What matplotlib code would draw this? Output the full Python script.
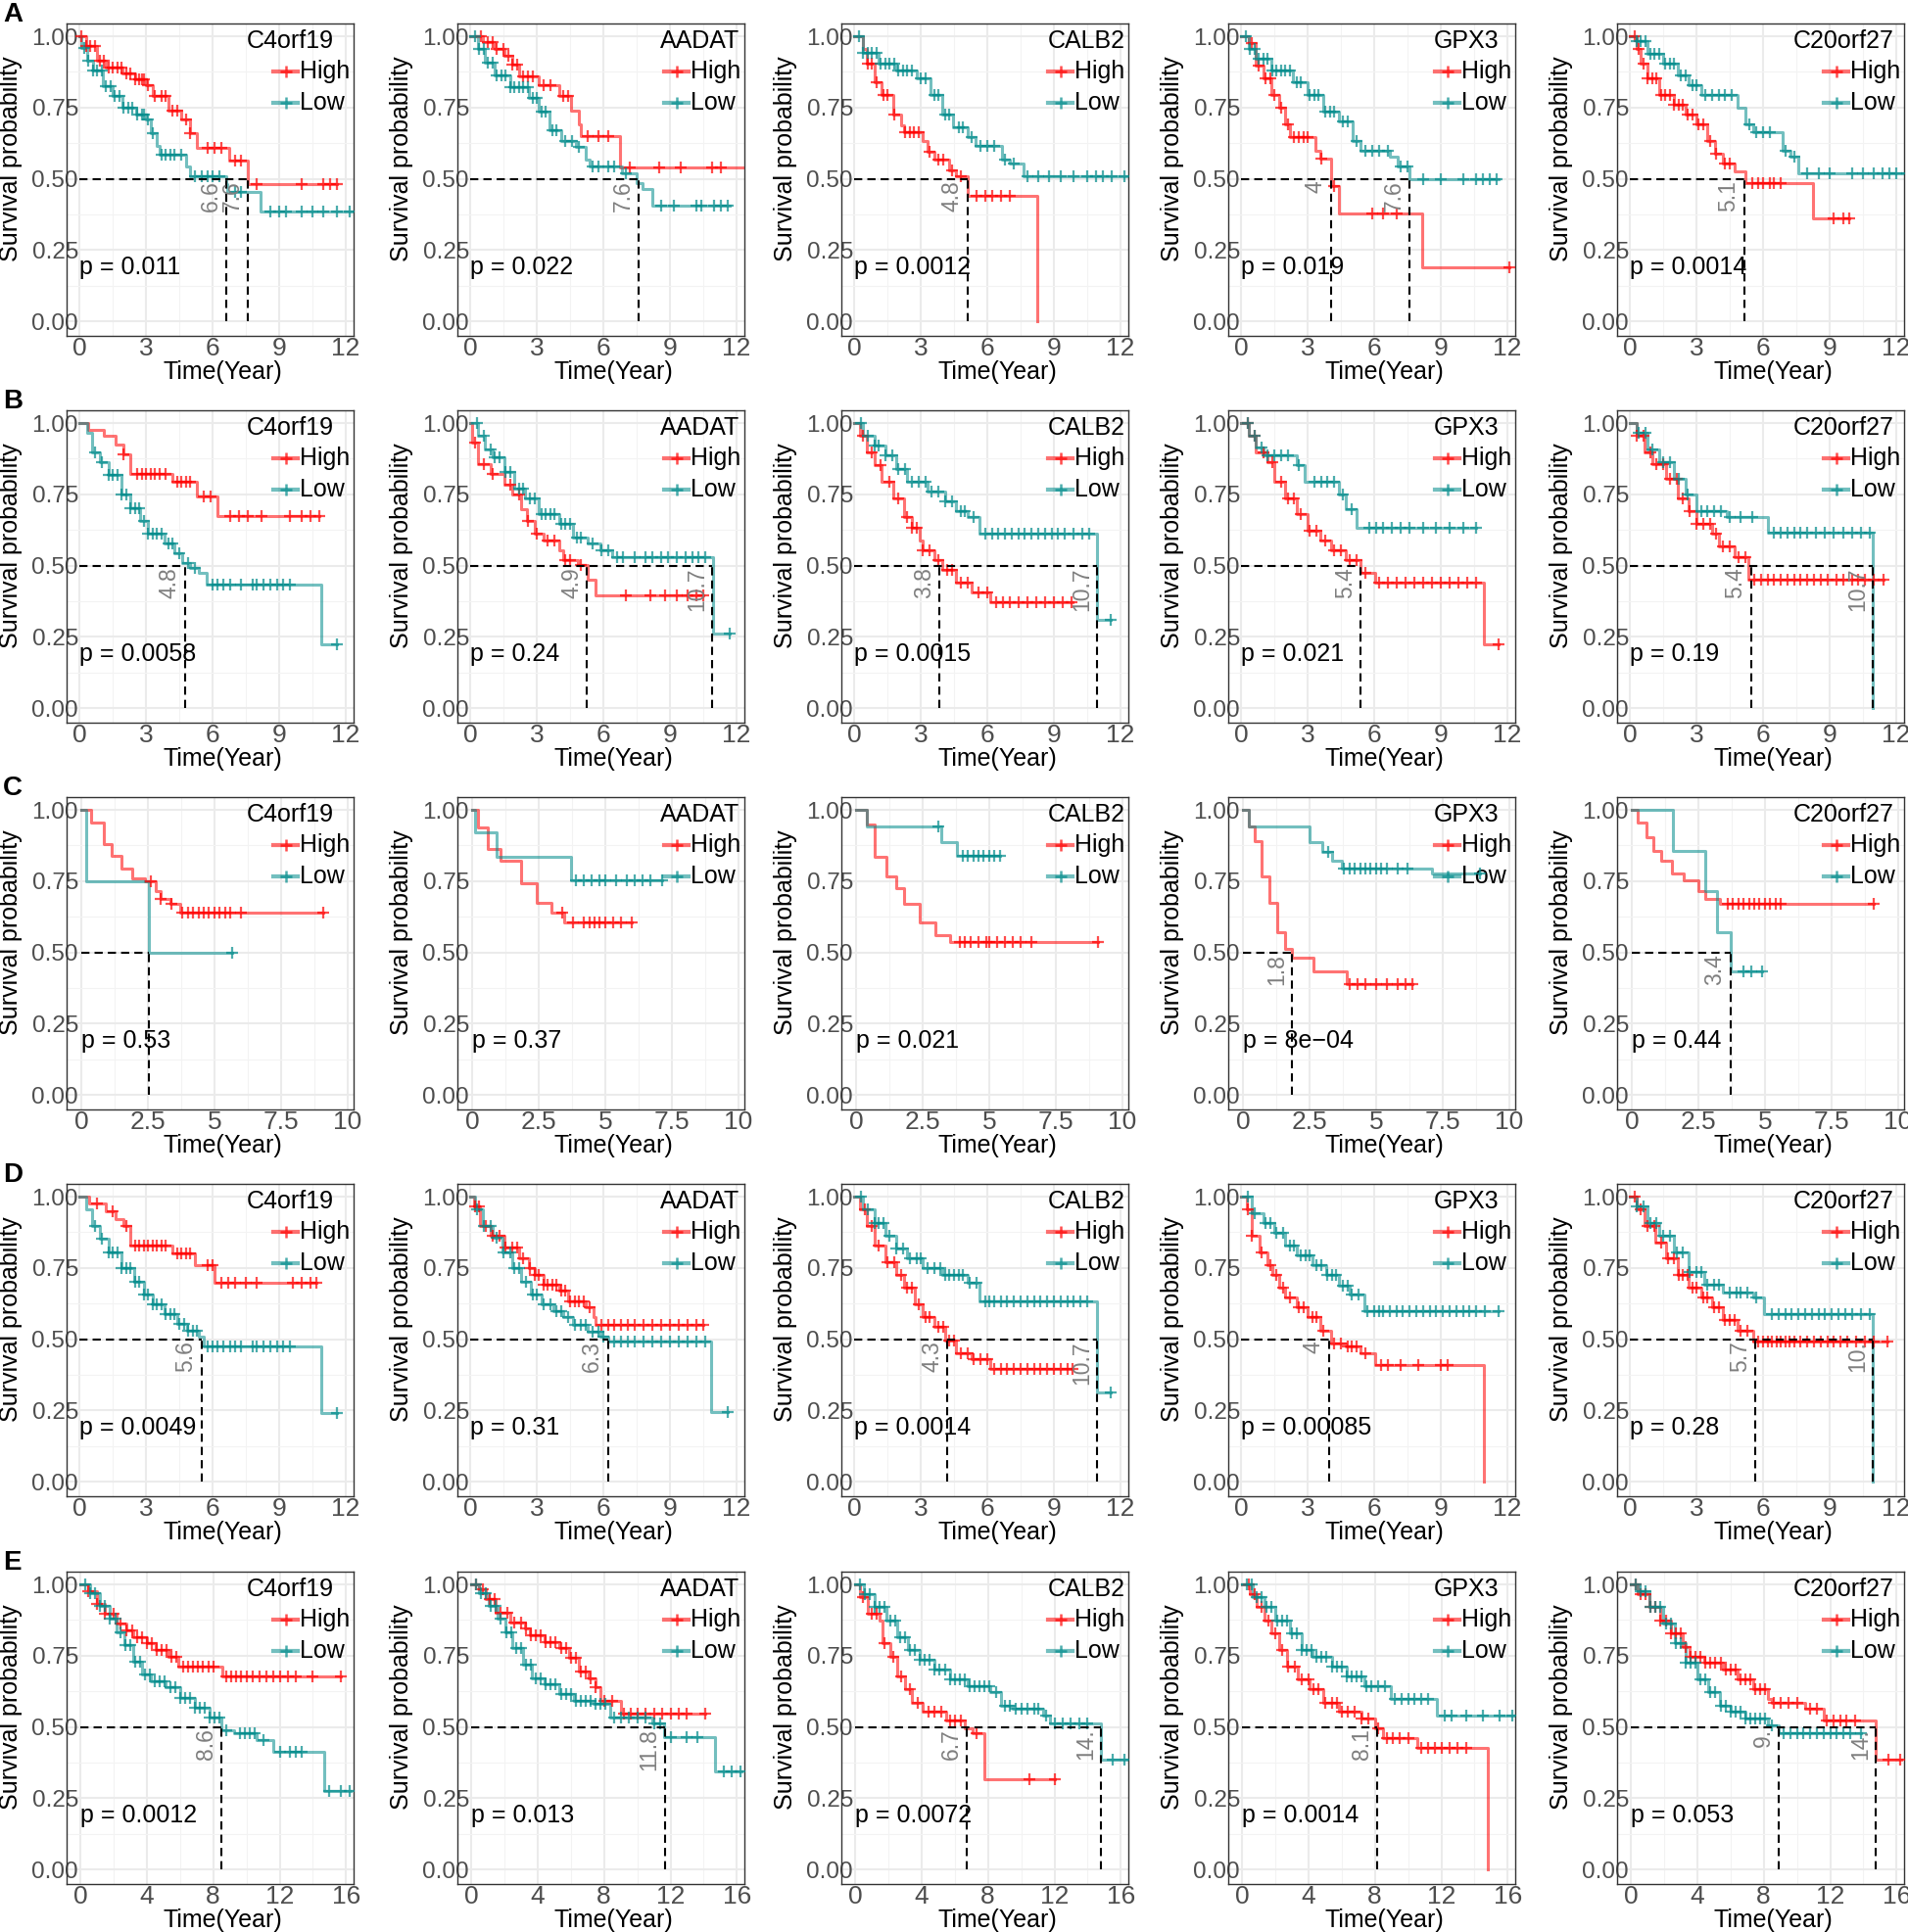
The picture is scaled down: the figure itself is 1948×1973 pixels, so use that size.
import matplotlib
matplotlib.use("Agg")
from matplotlib import pyplot as plt
from matplotlib.lines import Line2D

plt.rcParams['font.family'] = ['Liberation Sans', 'DejaVu Sans']

GENES = ["C4orf19", "AADAT", "CALB2", "GPX3", "C20orf27"]
ROWS = ["A", "B", "C", "D", "E"]

P_TEXT = {
    "A": ["p = 0.011", "p = 0.022", "p = 0.0012", "p = 0.019", "p = 0.0014"],
    "B": ["p = 0.0058", "p = 0.24", "p = 0.0015", "p = 0.021", "p = 0.19"],
    "C": ["p = 0.53", "p = 0.37", "p = 0.021", "p = 8e\u221204", "p = 0.44"],
    "D": ["p = 0.0049", "p = 0.31", "p = 0.0014", "p = 0.00085", "p = 0.28"],
    "E": ["p = 0.0012", "p = 0.013", "p = 0.0072", "p = 0.0014", "p = 0.053"],
}

X_TICKS = {
    "A": [0, 3, 6, 9, 12], "B": [0, 3, 6, 9, 12], "C": [0, 2.5, 5, 7.5, 10],
    "D": [0, 3, 6, 9, 12], "E": [0, 4, 8, 12, 16],
}
X_TICK_LABELS = {
    "A": ["0", "3", "6", "9", "12"], "B": ["0", "3", "6", "9", "12"],
    "C": ["0", "2.5", "5", "7.5", "10"], "D": ["0", "3", "6", "9", "12"],
    "E": ["0", "4", "8", "12", "16"],
}

# ---- survival curves: (time, survival) steps, censor times, median lines ----
A1_high = [(0, 1), (0.3, 0.966), (0.77, 0.915), (1.2, 0.89), (1.95, 0.87), (2.5, 0.85), (3.0, 0.83), (3.3, 0.79),
           (4.0, 0.74), (4.6, 0.71), (5.0, 0.66), (5.3, 0.61), (6.75, 0.565), (7.6, 0.48), (11.6, 0.48)]
A1_high_cens = [0.1, 0.3, 0.5, 0.7, 0.9, 1.1, 1.3, 1.5, 1.7, 1.9, 2.1, 2.3, 2.5, 2.7, 2.8, 2.9, 3.1, 3.4, 3.7, 3.9,
                4.2, 4.4, 4.8, 5.0, 5.8, 6.1, 6.4, 7.0, 7.3, 8.0, 10.0, 11.0, 11.3, 11.6]
A1_low = [(0, 1), (0.1, 0.96), (0.33, 0.915), (0.6, 0.88), (1.06, 0.824), (1.5, 0.79), (1.95, 0.75), (2.55, 0.727),
          (3.0, 0.71), (3.2, 0.66), (3.5, 0.614), (3.6, 0.585), (4.8, 0.545), (5.0, 0.51), (6.6, 0.48), (6.65, 0.455),
          (8.15, 0.386), (12.3, 0.386)]
A1_low_cens = [0.2, 0.4, 0.6, 0.8, 1.0, 1.2, 1.4, 1.6, 1.8, 2.0, 2.2, 2.4, 2.6, 2.8, 2.9, 3.1, 3.3, 3.7, 3.9, 4.1,
               4.3, 4.6, 5.2, 5.5, 5.8, 6.0, 6.3, 7.0, 7.3, 8.6, 9.0, 9.3, 10.0, 10.5, 11.0, 11.6, 12.2]
A1_med = [6.6, 7.6]
A1_med_lab = ["6.6", "7.6"]

A2_high = [(0, 1), (0.55, 0.98), (1.1, 0.954), (1.55, 0.93), (1.9, 0.90), (2.2, 0.86), (3.1, 0.83), (4.0, 0.79),
           (4.55, 0.74), (4.9, 0.69), (5.0, 0.65), (6.75, 0.54), (12.3, 0.54)]
A2_high_cens = [0.5, 0.8, 1.0, 1.2, 1.5, 1.7, 1.9, 2.1, 2.4, 2.6, 2.8, 3.3, 3.6, 4.2, 4.4, 5.3, 5.8, 6.2, 7.2, 8.5,
                9.5, 10.9, 11.3]
A2_low = [(0, 1), (0.33, 0.954), (0.66, 0.909), (1.1, 0.863), (1.8, 0.823), (2.65, 0.783), (3.1, 0.737),
          (3.55, 0.669), (4.1, 0.634), (4.75, 0.611), (5.2, 0.566), (5.4, 0.543), (6.85, 0.52), (7.5, 0.486),
          (7.75, 0.463), (8.2, 0.406), (11.7, 0.406)]
A2_low_cens = [0.2, 0.4, 0.6, 0.8, 1.0, 1.2, 1.4, 1.6, 1.8, 2.0, 2.2, 2.4, 2.6, 2.8, 3.0, 3.2, 3.4, 3.7, 3.9, 4.3,
               4.6, 4.9, 5.5, 5.8, 6.2, 6.5, 7.0, 8.6, 9.2, 10.2, 10.4, 11.0, 11.3, 11.6]
A2_med = [7.6]
A2_med_lab = ["7.6"]

A3_high = [(0, 1), (0.4, 0.954), (0.57, 0.903), (0.9, 0.84), (1.25, 0.794), (1.75, 0.726), (2.1, 0.686),
           (2.26, 0.663), (3.1, 0.634), (3.3, 0.594), (3.6, 0.566), (4.3, 0.531), (4.6, 0.509), (5.1, 0.44),
           (8.25, 0.44), (8.25, 0)]
A3_high_cens = [0.6, 0.8, 1.0, 1.3, 1.5, 1.8, 2.3, 2.5, 2.7, 2.9, 3.4, 3.8, 4.0, 4.4, 4.8, 5.5, 5.9, 6.2, 6.6, 7.0]
A3_low = [(0, 1), (0.4, 0.943), (1.1, 0.903), (1.9, 0.88), (2.8, 0.851), (3.45, 0.794), (3.95, 0.726), (4.45, 0.68),
          (5.1, 0.646), (5.45, 0.617), (6.65, 0.566), (7.0, 0.554), (7.65, 0.509), (12.4, 0.509)]
A3_low_cens = [0.2, 0.4, 0.6, 0.8, 1.0, 1.2, 1.4, 1.6, 1.8, 2.0, 2.2, 2.4, 2.6, 3.0, 3.2, 3.6, 3.8, 4.1, 4.3, 4.7,
               4.9, 5.3, 5.7, 6.0, 6.3, 6.8, 7.2, 7.8, 8.3, 8.8, 9.3, 9.9, 10.5, 10.9, 11.2, 11.6, 12.2]
A3_med = [5.1]
A3_med_lab = ["4.8"]

A4_high = [(0, 1), (0.33, 0.977), (0.67, 0.897), (1.0, 0.851), (1.35, 0.794), (1.7, 0.749), (2.0, 0.69),
           (2.2, 0.646), (3.35, 0.6), (3.55, 0.571), (4.05, 0.474), (4.4, 0.377), (8.15, 0.189), (12.1, 0.189)]
A4_high_cens = [0.5, 0.8, 1.1, 1.3, 1.5, 1.8, 2.1, 2.4, 2.6, 2.8, 3.0, 3.6, 4.2, 5.9, 6.4, 7.0, 12.1]
A4_low = [(0, 1), (0.33, 0.954), (0.67, 0.92), (1.35, 0.88), (2.35, 0.84), (3.0, 0.794), (3.7, 0.737), (4.4, 0.703),
          (5.05, 0.634), (5.4, 0.6), (6.7, 0.577), (7.05, 0.543), (7.6, 0.497), (11.6, 0.497)]
A4_low_cens = [0.2, 0.4, 0.6, 0.8, 1.0, 1.2, 1.4, 1.6, 1.8, 2.0, 2.2, 2.5, 2.7, 3.1, 3.3, 3.5, 3.8, 4.0, 4.2, 4.6,
               4.8, 5.2, 5.6, 5.9, 6.2, 6.6, 7.2, 7.5, 8.2, 9.0, 10.0, 10.6, 10.9, 11.2, 11.5]
A4_med = [4.05, 7.6]
A4_med_lab = ["4", "7.6"]

A5_high = [(0, 1), (0.3, 0.954), (0.47, 0.903), (0.8, 0.851), (1.3, 0.794), (2.0, 0.76), (2.5, 0.726), (3.0, 0.691),
           (3.5, 0.634), (3.85, 0.589), (4.2, 0.554), (4.7, 0.526), (5.2, 0.486), (8.25, 0.36), (9.9, 0.36)]
A5_high_cens = [0.2, 0.4, 0.6, 0.8, 1.0, 1.2, 1.4, 1.6, 1.8, 2.0, 2.2, 2.4, 2.6, 2.8, 3.1, 3.3, 3.6, 3.9, 4.3, 4.5,
                5.5, 5.8, 6.0, 6.3, 6.5, 6.8, 9.2, 9.6, 9.9]
A5_low = [(0, 1), (0.3, 0.983), (0.8, 0.937), (1.5, 0.903), (2.15, 0.863), (2.65, 0.829), (3.2, 0.794),
          (4.85, 0.749), (5.2, 0.691), (5.55, 0.663), (6.9, 0.6), (7.25, 0.577), (7.6, 0.52), (12.5, 0.52)]
A5_low_cens = [0.3, 0.5, 0.7, 0.9, 1.1, 1.3, 1.6, 1.8, 2.0, 2.3, 2.5, 2.8, 3.0, 3.4, 3.7, 4.0, 4.3, 4.6, 5.4, 5.7,
               6.0, 6.3, 7.0, 7.4, 8.0, 8.5, 9.0, 10.0, 10.5, 11.0, 11.4, 11.7, 12.0, 12.5]
A5_med = [5.15]
A5_med_lab = ["5.1"]

B1_high = [(0, 1), (0.4, 0.977), (1.1, 0.954), (1.65, 0.926), (2.0, 0.891), (2.3, 0.823), (4.2, 0.794),
           (5.3, 0.743), (6.2, 0.674), (10.8, 0.674)]
B1_high_cens = [2.0, 2.6, 2.8, 3.0, 3.2, 3.4, 3.6, 3.9, 4.4, 4.6, 4.8, 5.0, 5.6, 5.9, 6.8, 7.2, 7.6, 8.2, 9.5, 10.0,
                10.4, 10.8]
B1_low = [(0, 1), (0.33, 0.966), (0.55, 0.897), (0.9, 0.863), (1.3, 0.817), (1.9, 0.749), (2.3, 0.703),
          (2.75, 0.657), (3.1, 0.611), (3.85, 0.577), (4.3, 0.543), (4.65, 0.509), (5.0, 0.491), (5.4, 0.474),
          (5.75, 0.434), (10.9, 0.434), (10.9, 0.223), (11.6, 0.223)]
B1_low_cens = [0.7, 1.0, 1.3, 1.5, 1.7, 1.9, 2.1, 2.3, 2.5, 2.7, 2.9, 3.1, 3.3, 3.5, 3.7, 4.0, 4.2, 4.5, 4.9, 5.2,
               6.0, 6.2, 6.5, 6.8, 7.3, 7.8, 8.0, 8.3, 8.6, 8.9, 9.2, 9.5, 11.6]
B1_med = [4.75]
B1_med_lab = ["4.8"]

B2_high = [(0, 1), (0.1, 0.931), (0.33, 0.857), (0.9, 0.823), (1.55, 0.783), (1.9, 0.749), (2.3, 0.697),
           (2.55, 0.657), (2.9, 0.611), (3.3, 0.589), (4.0, 0.554), (4.2, 0.52), (4.85, 0.503), (5.3, 0.451),
           (5.65, 0.394), (10.5, 0.394)]
B2_high_cens = [0.2, 0.6, 1.0, 1.8, 2.2, 2.6, 3.0, 3.5, 3.8, 4.3, 4.5, 5.0, 7.0, 8.1, 8.8, 9.3, 9.8, 10.2, 10.5]
B2_low = [(0, 1), (0.33, 0.954), (0.66, 0.909), (1.0, 0.88), (1.55, 0.829), (2.0, 0.771), (2.45, 0.737),
          (3.1, 0.68), (4.0, 0.646), (4.65, 0.6), (5.3, 0.577), (5.85, 0.554), (6.4, 0.531), (10.95, 0.531),
          (10.95, 0.263), (11.7, 0.263)]
B2_low_cens = [0.3, 0.6, 0.9, 1.1, 1.3, 1.6, 1.8, 2.2, 2.4, 2.7, 2.9, 3.2, 3.4, 3.6, 3.8, 4.1, 4.3, 4.5, 4.8, 5.0,
               5.5, 5.9, 6.2, 6.6, 6.9, 7.4, 7.9, 8.2, 8.6, 8.9, 9.3, 9.7, 10.0, 10.3, 10.6, 11.7]
B2_med = [5.27, 10.9]
B2_med_lab = ["4.9", "10.7"]

B3_high = [(0, 1), (0.24, 0.954), (0.57, 0.897), (0.9, 0.851), (1.25, 0.794), (1.75, 0.737), (2.26, 0.669),
           (2.6, 0.634), (2.94, 0.589), (3.1, 0.554), (3.6, 0.52), (3.95, 0.486), (4.6, 0.44), (5.3, 0.406),
           (6.15, 0.371), (9.85, 0.371)]
B3_high_cens = [0.4, 0.8, 1.2, 1.6, 2.0, 2.4, 2.6, 2.8, 3.1, 3.4, 3.8, 4.2, 4.4, 4.8, 5.1, 5.6, 6.0, 6.4, 6.7, 7.0,
                7.4, 7.8, 8.2, 8.6, 9.0, 9.4, 9.8]
B3_low = [(0, 1), (0.4, 0.954), (0.9, 0.92), (1.4, 0.886), (1.9, 0.84), (2.4, 0.794), (3.3, 0.76), (4.1, 0.726),
          (4.6, 0.691), (5.1, 0.669), (5.65, 0.611), (10.95, 0.611), (10.95, 0.309), (11.55, 0.309)]
B3_low_cens = [0.3, 0.6, 0.9, 1.1, 1.4, 1.7, 2.0, 2.3, 2.6, 2.9, 3.2, 3.5, 3.8, 4.1, 4.4, 4.8, 5.0, 5.4, 5.9, 6.2,
               6.5, 6.8, 7.1, 7.4, 7.7, 8.0, 8.3, 8.6, 8.9, 9.2, 9.5, 9.9, 10.3, 10.6, 11.55]
B3_med = [3.85, 10.95]
B3_med_lab = ["3.8", "10.7"]

B4_high = [(0, 1), (0.33, 0.954), (0.67, 0.897), (1.2, 0.863), (1.5, 0.794), (2.0, 0.737), (2.5, 0.68),
           (3.0, 0.623), (3.55, 0.589), (4.05, 0.554), (4.7, 0.52), (5.4, 0.474), (6.05, 0.44), (10.95, 0.44),
           (10.95, 0.223), (11.6, 0.223)]
B4_high_cens = [0.3, 0.6, 1.0, 1.4, 1.8, 2.1, 2.4, 2.7, 3.1, 3.4, 3.8, 4.2, 4.5, 4.9, 5.2, 5.6, 6.2, 6.6, 7.0, 7.4,
                7.8, 8.2, 8.6, 9.0, 9.4, 9.8, 10.2, 10.6, 11.6]
B4_low = [(0, 1), (0.33, 0.954), (0.67, 0.914), (1.0, 0.886), (2.5, 0.851), (2.85, 0.794), (4.4, 0.749),
          (4.7, 0.697), (5.2, 0.634), (10.6, 0.634)]
B4_low_cens = [0.3, 0.6, 0.9, 1.2, 1.5, 1.8, 2.1, 2.6, 3.3, 3.6, 3.9, 4.2, 4.6, 5.0, 5.8, 6.1, 6.4, 6.8, 7.2, 7.6,
               8.2, 8.8, 9.4, 10.0, 10.6]
B4_med = [5.4]
B4_med_lab = ["5.4"]

B5_high = [(0, 1), (0.3, 0.954), (0.64, 0.897), (1.0, 0.857), (1.65, 0.806), (2.15, 0.737), (2.65, 0.691),
           (3.0, 0.646), (3.7, 0.611), (4.0, 0.566), (4.7, 0.531), (5.35, 0.451), (11.45, 0.451)]
B5_high_cens = [0.3, 0.6, 0.9, 1.2, 1.5, 1.8, 2.1, 2.4, 2.7, 3.0, 3.3, 3.6, 3.9, 4.2, 4.5, 4.9, 5.2, 5.6, 5.9, 6.2,
                6.5, 6.8, 7.1, 7.4, 7.7, 8.0, 8.3, 8.6, 8.9, 9.3, 9.6, 10.0, 10.3, 10.6, 11.0, 11.45]
B5_low = [(0, 1), (0.3, 0.966), (0.8, 0.909), (1.3, 0.863), (2.0, 0.806), (2.5, 0.749), (3.0, 0.691),
          (4.35, 0.669), (6.2, 0.617), (10.95, 0.617), (10.95, 0)]
B5_low_cens = [0.4, 0.7, 1.0, 1.5, 1.8, 2.2, 2.6, 3.2, 3.5, 3.8, 4.1, 4.5, 5.0, 5.5, 6.5, 6.8, 7.1, 7.4, 7.7, 8.0,
               8.4, 8.8, 9.2, 9.6, 10.0, 10.4, 10.8]
B5_med = [5.45, 10.95]
B5_med_lab = ["5.4", "10.7"]

C1_high = [(0, 1), (0.37, 0.954), (0.83, 0.88), (1.15, 0.84), (1.5, 0.794), (1.9, 0.76), (2.4, 0.749),
           (2.8, 0.714), (3.0, 0.686), (3.35, 0.669), (3.7, 0.64), (9.1, 0.64)]
C1_high_cens = [2.6, 3.0, 3.4, 3.8, 4.0, 4.2, 4.4, 4.6, 4.8, 5.0, 5.2, 5.4, 5.6, 6.0, 9.1]
C1_low = [(0, 1), (0.2, 0.75), (2.55, 0.5), (5.65, 0.5)]
C1_low_cens = [5.65]
C1_med = [2.55]
C1_med_lab = [""]

C2_high = [(0, 1), (0.23, 0.937), (0.6, 0.863), (1.06, 0.823), (1.84, 0.743), (2.44, 0.674), (3.0, 0.64),
           (3.45, 0.606), (6.0, 0.606)]
C2_high_cens = [3.4, 3.8, 4.2, 4.4, 4.6, 4.8, 5.0, 5.3, 5.6, 6.0]
C2_low = [(0, 1), (0.1, 0.92), (0.92, 0.834), (3.7, 0.754), (7.15, 0.754)]
C2_low_cens = [3.9, 4.2, 4.5, 4.8, 5.0, 5.4, 5.8, 6.1, 6.4, 6.7, 7.15]
C2_med = []
C2_med_lab = []

C3_high = [(0, 1), (0.4, 0.949), (0.7, 0.834), (1.15, 0.766), (1.5, 0.726), (1.8, 0.669), (2.4, 0.606),
           (3.0, 0.56), (3.55, 0.537), (9.1, 0.537)]
C3_high_cens = [3.9, 4.1, 4.3, 4.6, 4.9, 5.0, 5.3, 5.6, 5.9, 6.2, 6.6, 9.1]
C3_low = [(0, 1), (0.4, 0.943), (3.2, 0.886), (3.8, 0.84), (5.4, 0.84)]
C3_low_cens = [3.1, 4.0, 4.2, 4.4, 4.6, 4.8, 5.0, 5.2, 5.4]
C3_med = []
C3_med_lab = []

C4_high = [(0, 1), (0.23, 0.943), (0.46, 0.891), (0.7, 0.766), (1.0, 0.674), (1.3, 0.571), (1.6, 0.514),
           (1.85, 0.48), (2.65, 0.434), (3.9, 0.389), (6.35, 0.389)]
C4_high_cens = [4.0, 4.3, 4.6, 5.0, 5.4, 5.8, 6.1, 6.35]
C4_low = [(0, 1), (0.23, 0.943), (2.5, 0.886), (3.0, 0.851), (3.35, 0.823), (3.7, 0.794), (7.1, 0.776),
          (8.9, 0.776)]
C4_low_cens = [3.2, 3.8, 4.0, 4.2, 4.4, 4.6, 4.8, 5.0, 5.2, 5.4, 5.8, 6.2, 8.9]
C4_med = [1.85]
C4_med_lab = ["1.8"]

C5_high = [(0, 1), (0.23, 0.954), (0.55, 0.903), (0.8, 0.857), (1.1, 0.823), (1.5, 0.777), (1.95, 0.754),
           (2.5, 0.714), (2.75, 0.686), (3.3, 0.669), (9.1, 0.669)]
C5_high_cens = [3.6, 3.8, 4.0, 4.2, 4.4, 4.6, 4.8, 5.0, 5.2, 5.4, 5.6, 9.1]
C5_low = [(0, 1), (1.55, 0.857), (2.75, 0.714), (3.2, 0.571), (3.7, 0.434), (4.9, 0.434)]
C5_low_cens = [4.2, 4.5, 4.9]
C5_med = [3.7]
C5_med_lab = ["3.4"]

D1_high = [(0, 1), (0.45, 0.977), (1.2, 0.949), (1.65, 0.92), (2.0, 0.897), (2.3, 0.829), (4.2, 0.8),
           (5.2, 0.76), (6.1, 0.697), (10.7, 0.697)]
D1_high_cens = [0.8, 1.5, 2.1, 2.5, 2.7, 2.9, 3.1, 3.3, 3.5, 3.7, 3.9, 4.4, 4.6, 4.8, 5.0, 5.8, 6.0, 6.4, 6.7, 7.0,
                7.5, 8.0, 9.6, 10.0, 10.4, 10.7]
D1_low = [(0, 1), (0.3, 0.954), (0.55, 0.897), (0.9, 0.851), (1.3, 0.806), (1.9, 0.749), (2.45, 0.703),
          (2.9, 0.657), (3.3, 0.623), (3.85, 0.589), (4.4, 0.554), (4.85, 0.531), (5.4, 0.509), (5.6, 0.474),
          (10.9, 0.474), (10.9, 0.24), (11.6, 0.24)]
D1_low_cens = [0.7, 1.0, 1.3, 1.5, 1.7, 1.9, 2.1, 2.3, 2.5, 2.7, 2.9, 3.1, 3.3, 3.5, 3.7, 3.9, 4.1, 4.3, 4.5, 4.7,
               4.9, 5.1, 5.3, 5.8, 6.0, 6.2, 6.5, 6.8, 7.0, 7.3, 7.8, 8.0, 8.3, 8.6, 8.9, 9.2, 9.5, 11.6]
D1_med = [5.5]
D1_med_lab = ["5.6"]

D2_high = [(0, 1), (0.18, 0.966), (0.45, 0.897), (0.9, 0.863), (1.55, 0.823), (2.2, 0.783), (2.65, 0.749),
           (2.9, 0.726), (3.3, 0.691), (4.0, 0.669), (4.4, 0.634), (5.2, 0.611), (5.55, 0.577), (5.65, 0.549),
           (10.5, 0.549)]
D2_high_cens = [0.2, 0.4, 0.7, 1.0, 1.3, 1.6, 1.9, 2.1, 2.4, 2.7, 2.9, 3.1, 3.3, 3.5, 3.7, 3.9, 4.1, 4.3, 4.5, 4.7,
                4.9, 5.1, 5.4, 5.9, 6.2, 6.5, 6.8, 7.1, 7.4, 7.8, 8.2, 8.6, 9.0, 9.4, 9.8, 10.2, 10.5]
D2_low = [(0, 1), (0.22, 0.954), (0.55, 0.897), (1.0, 0.857), (1.45, 0.806), (1.9, 0.749), (2.3, 0.703),
          (2.75, 0.657), (3.2, 0.623), (3.75, 0.6), (4.2, 0.577), (4.65, 0.549), (5.3, 0.526), (5.85, 0.509),
          (6.2, 0.491), (10.85, 0.491), (10.85, 0.246), (11.6, 0.246)]
D2_low_cens = [0.3, 0.6, 0.9, 1.2, 1.5, 1.8, 2.0, 2.2, 2.5, 2.8, 3.0, 3.3, 3.6, 3.9, 4.1, 4.4, 4.7, 5.0, 5.2, 5.5,
               5.8, 6.0, 6.5, 6.8, 7.1, 7.4, 7.8, 8.2, 8.6, 9.0, 9.4, 9.8, 10.2, 10.6, 11.6]
D2_med = [6.2]
D2_med_lab = ["6.3"]

D3_high = [(0, 1), (0.24, 0.954), (0.57, 0.897), (0.9, 0.829), (1.4, 0.771), (1.9, 0.726), (2.25, 0.68),
           (2.75, 0.623), (3.1, 0.577), (3.6, 0.543), (4.1, 0.497), (4.6, 0.451), (5.3, 0.429), (6.15, 0.394),
           (9.85, 0.394)]
D3_high_cens = [0.5, 0.8, 1.1, 1.5, 1.8, 2.1, 2.4, 2.6, 2.9, 3.2, 3.4, 3.8, 4.0, 4.3, 4.5, 4.8, 5.1, 5.4, 5.7, 6.0,
                6.3, 6.6, 6.9, 7.2, 7.5, 7.8, 8.1, 8.4, 8.7, 9.0, 9.3, 9.6, 9.85]
D3_low = [(0, 1), (0.4, 0.954), (0.9, 0.909), (1.4, 0.863), (1.9, 0.817), (2.4, 0.783), (3.1, 0.749),
          (3.95, 0.726), (5.1, 0.697), (5.65, 0.634), (10.95, 0.634), (10.95, 0.314), (11.55, 0.314)]
D3_low_cens = [0.3, 0.6, 0.9, 1.1, 1.3, 1.6, 1.9, 2.2, 2.5, 2.8, 3.0, 3.3, 3.6, 3.9, 4.1, 4.3, 4.5, 4.7, 4.9, 5.2,
               5.5, 5.9, 6.1, 6.3, 6.6, 6.9, 7.2, 7.5, 7.8, 8.1, 8.4, 8.7, 9.0, 9.3, 9.6, 9.9, 10.2, 10.5, 11.55]
D3_med = [4.2, 10.95]
D3_med_lab = ["4.3", "10.7"]

D4_high = [(0, 1), (0.27, 0.954), (0.5, 0.863), (0.85, 0.806), (1.2, 0.76), (1.4, 0.726), (1.7, 0.68),
           (2.0, 0.646), (2.5, 0.611), (3.0, 0.577), (3.55, 0.531), (4.05, 0.486), (4.7, 0.474), (5.4, 0.451),
           (6.05, 0.411), (10.95, 0.411), (10.95, 0)]
D4_high_cens = [0.3, 0.5, 0.9, 1.3, 1.6, 1.9, 2.2, 2.6, 2.8, 3.2, 3.4, 3.7, 4.2, 4.5, 4.8, 5.0, 5.2, 5.6, 6.3, 6.6,
                7.2, 8.0, 9.0, 9.3]
D4_low = [(0, 1), (0.5, 0.943), (1.0, 0.909), (1.5, 0.874), (2.0, 0.829), (2.5, 0.794), (3.2, 0.76),
          (3.85, 0.726), (4.4, 0.686), (4.9, 0.657), (5.55, 0.6), (11.6, 0.6)]
D4_low_cens = [0.3, 0.6, 1.1, 1.3, 1.6, 1.9, 2.2, 2.4, 2.7, 2.9, 3.1, 3.4, 3.6, 3.9, 4.1, 4.3, 4.6, 4.8, 5.0, 5.3,
               5.7, 6.0, 6.2, 6.4, 6.7, 7.0, 7.3, 7.6, 7.9, 8.2, 8.5, 8.8, 9.1, 9.4, 9.7, 10.0, 10.3, 10.6, 11.0, 11.6]
D4_med = [3.95]
D4_med_lab = ["4"]

D5_high = [(0, 1), (0.3, 0.954), (0.64, 0.897), (1.15, 0.84), (1.65, 0.783), (2.15, 0.726), (2.65, 0.68),
           (3.2, 0.646), (3.7, 0.611), (4.2, 0.566), (4.85, 0.531), (5.55, 0.491), (11.6, 0.491)]
D5_high_cens = [0.2, 0.5, 0.8, 1.1, 1.4, 1.7, 2.0, 2.2, 2.4, 2.6, 2.8, 3.0, 3.3, 3.5, 3.8, 4.0, 4.3, 4.5, 4.7, 5.0,
                5.3, 5.8, 6.0, 6.2, 6.4, 6.6, 6.8, 7.0, 7.2, 7.4, 7.7, 8.0, 8.3, 8.6, 8.9, 9.2, 9.5, 9.8, 10.2, 10.6,
                11.0, 11.6]
D5_low = [(0, 1), (0.3, 0.966), (0.8, 0.909), (1.3, 0.863), (2.0, 0.806), (2.65, 0.737), (3.35, 0.691),
          (4.2, 0.663), (5.55, 0.646), (6.05, 0.589), (10.95, 0.589), (10.95, 0)]
D5_low_cens = [0.3, 0.6, 0.9, 1.2, 1.5, 1.8, 2.1, 2.4, 2.7, 3.0, 3.2, 3.5, 3.8, 4.0, 4.5, 4.8, 5.0, 5.3, 5.7, 6.4,
               6.7, 7.0, 7.3, 7.6, 7.9, 8.2, 8.5, 8.8, 9.1, 9.4, 9.7, 10.0, 10.4, 10.8]
D5_med = [5.65, 10.95]
D5_med_lab = ["5.7", "10."]

E1_high = [(0, 1), (0.45, 0.977), (1.0, 0.931), (1.5, 0.897), (2.2, 0.862), (2.8, 0.839), (3.2, 0.816),
           (4.0, 0.793), (4.55, 0.77), (5.3, 0.747), (5.9, 0.713), (8.55, 0.678), (15.7, 0.678)]
E1_high_cens = [0.5, 1.0, 1.5, 2.0, 2.4, 2.8, 3.1, 3.4, 3.7, 4.0, 4.3, 4.6, 4.9, 5.2, 5.5, 5.8, 6.2, 6.5, 6.8, 7.1,
                7.4, 7.7, 8.0, 8.8, 9.1, 9.4, 9.7, 10.0, 10.4, 10.8, 11.2, 11.6, 12.0, 12.5, 13.0, 14.0, 15.7]
E1_low = [(0, 1), (0.6, 0.971), (1.2, 0.925), (1.75, 0.879), (2.2, 0.833), (2.65, 0.787), (3.2, 0.729),
          (3.7, 0.684), (4.25, 0.661), (5.15, 0.638), (6.0, 0.603), (6.9, 0.569), (7.8, 0.534), (8.5, 0.489),
          (9.25, 0.477), (10.6, 0.454), (11.6, 0.414), (14.7, 0.276), (16.3, 0.276)]
E1_low_cens = [0.3, 0.6, 0.9, 1.2, 1.5, 1.8, 2.1, 2.4, 2.7, 3.0, 3.3, 3.6, 3.9, 4.2, 4.5, 4.8, 5.1, 5.4, 5.7, 6.0,
               6.3, 6.6, 6.9, 7.2, 7.5, 7.8, 8.1, 8.4, 8.8, 9.6, 9.9, 10.2, 10.5, 11.0, 12.0, 12.6, 13.0, 13.3,
               15.0, 15.7, 16.2]
E1_med = [8.5]
E1_med_lab = ["8.6"]

E2_high = [(0, 1), (0.45, 0.983), (0.9, 0.948), (1.5, 0.902), (2.35, 0.868), (3.25, 0.845), (3.55, 0.822),
           (4.4, 0.799), (5.3, 0.776), (5.9, 0.741), (6.5, 0.695), (7.05, 0.672), (7.5, 0.638), (7.8, 0.592),
           (9.0, 0.546), (14.1, 0.546)]
E2_high_cens = [0.3, 0.7, 1.1, 1.4, 1.8, 2.2, 2.6, 3.0, 3.3, 3.6, 3.9, 4.2, 4.5, 4.8, 5.1, 5.4, 5.7, 6.0, 6.3, 6.6,
                6.9, 7.2, 7.5, 8.0, 8.5, 9.2, 9.6, 10.0, 10.5, 11.0, 11.5, 12.0, 12.5, 13.0, 14.1]
E2_low = [(0, 1), (0.45, 0.971), (1.05, 0.925), (1.6, 0.879), (2.05, 0.833), (2.5, 0.776), (3.1, 0.718),
          (3.65, 0.672), (4.4, 0.649), (5.3, 0.615), (6.2, 0.592), (7.35, 0.58), (8.4, 0.534), (10.9, 0.511),
          (11.6, 0.466), (14.7, 0.345), (16.3, 0.345)]
E2_low_cens = [0.3, 0.6, 0.9, 1.2, 1.5, 1.8, 2.1, 2.4, 2.7, 3.0, 3.3, 3.6, 3.9, 4.2, 4.5, 4.8, 5.1, 5.4, 5.7, 6.0,
               6.3, 6.6, 6.9, 7.2, 7.5, 7.8, 8.1, 8.6, 9.0, 9.5, 10.0, 10.5, 11.0, 11.4, 12.0, 13.0, 13.6, 15.2,
               15.7, 16.2]
E2_med = [11.65]
E2_med_lab = ["11.8"]

E3_high = [(0, 1), (0.3, 0.954), (0.76, 0.897), (1.45, 0.874), (1.65, 0.793), (2.1, 0.747), (2.55, 0.678),
           (3.0, 0.632), (3.45, 0.586), (4.1, 0.552), (5.5, 0.523), (6.6, 0.494), (7.05, 0.477), (7.8, 0.316),
           (12.0, 0.316)]
E3_high_cens = [0.5, 1.0, 1.3, 1.8, 2.3, 2.8, 3.3, 3.8, 4.4, 4.8, 5.2, 5.7, 6.0, 6.4, 7.3, 10.5, 12.0]
E3_low = [(0, 1), (0.55, 0.966), (1.2, 0.92), (1.9, 0.874), (2.55, 0.816), (3.2, 0.77), (3.9, 0.736), (4.8, 0.701),
          (5.7, 0.667), (6.8, 0.644), (8.15, 0.621), (8.8, 0.575), (9.5, 0.563), (11.3, 0.54), (11.75, 0.511),
          (14.8, 0.511), (14.8, 0.385), (16.45, 0.385)]
E3_low_cens = [0.3, 0.6, 0.9, 1.2, 1.5, 1.8, 2.1, 2.4, 2.7, 3.0, 3.3, 3.6, 3.9, 4.2, 4.5, 4.8, 5.1, 5.4, 5.7, 6.0,
               6.3, 6.6, 6.9, 7.2, 7.5, 7.8, 8.1, 8.5, 9.0, 9.3, 9.7, 10.0, 10.4, 10.8, 11.0, 11.5, 12.0, 12.5,
               13.0, 13.5, 14.0, 15.5, 16.2]
E3_med = [6.7, 14.8]
E3_med_lab = ["6.7", "14."]

E4_high = [(0, 1), (0.45, 0.966), (0.9, 0.92), (1.35, 0.874), (1.8, 0.828), (2.25, 0.77), (2.7, 0.713),
           (3.35, 0.667), (4.05, 0.632), (4.9, 0.586), (5.85, 0.552), (7.2, 0.529), (8.05, 0.494), (8.5, 0.46),
           (10.55, 0.425), (14.8, 0.425), (14.8, 0)]
E4_high_cens = [0.4, 0.8, 1.2, 1.6, 2.0, 2.4, 2.8, 3.2, 3.6, 4.0, 4.3, 4.6, 5.0, 5.4, 5.7, 6.0, 6.4, 6.8, 7.2, 7.6,
                8.2, 8.7, 9.1, 9.5, 10.0, 10.8, 11.2, 11.6, 12.0, 12.5, 13.0, 13.5]
E4_low = [(0, 1), (0.65, 0.954), (1.35, 0.92), (2.0, 0.874), (2.9, 0.828), (3.6, 0.77), (4.25, 0.747), (5.4, 0.713),
          (6.3, 0.678), (7.4, 0.644), (8.95, 0.6), (11.75, 0.54), (16.4, 0.54)]
E4_low_cens = [0.3, 0.6, 0.9, 1.2, 1.5, 1.8, 2.1, 2.4, 2.7, 3.0, 3.3, 3.6, 3.9, 4.2, 4.5, 4.8, 5.1, 5.4, 5.7, 6.0,
               6.3, 6.6, 6.9, 7.2, 7.5, 7.8, 8.2, 8.6, 9.2, 9.6, 10.0, 10.4, 10.8, 11.2, 12.2, 12.6, 13.5, 14.5,
               15.5, 16.3]
E4_med = [8.15]
E4_med_lab = ["8.1"]

E5_high = [(0, 1), (0.4, 0.966), (1.1, 0.92), (1.75, 0.874), (2.4, 0.828), (3.1, 0.782), (3.55, 0.747),
           (4.45, 0.724), (5.55, 0.701), (6.45, 0.667), (7.35, 0.632), (8.25, 0.598), (8.5, 0.586), (10.5, 0.563),
           (11.6, 0.523), (14.75, 0.385), (16.3, 0.385)]
E5_high_cens = [0.3, 0.6, 0.9, 1.2, 1.5, 1.8, 2.1, 2.4, 2.7, 3.0, 3.3, 3.6, 3.9, 4.2, 4.5, 4.8, 5.1, 5.4, 5.7, 6.0,
                6.3, 6.6, 6.9, 7.2, 7.5, 7.8, 8.1, 8.6, 9.0, 9.5, 10.0, 10.8, 11.2, 11.8, 12.2, 12.6, 13.0, 13.5,
                15.5, 16.2]
E5_low = [(0, 1), (0.4, 0.977), (1.1, 0.92), (1.95, 0.862), (2.65, 0.793), (3.3, 0.724), (4.0, 0.667),
          (4.65, 0.621), (5.35, 0.575), (6.0, 0.552), (6.9, 0.529), (8.25, 0.506), (8.9, 0.477), (13.85, 0.477)]
E5_low_cens = [0.3, 0.6, 0.9, 1.2, 1.5, 1.8, 2.1, 2.4, 2.7, 3.0, 3.3, 3.6, 3.9, 4.2, 4.5, 4.8, 5.1, 5.4, 5.7, 6.0,
               6.3, 6.6, 6.9, 7.2, 7.5, 7.8, 8.1, 8.5, 9.2, 9.6, 10.0, 10.4, 10.8, 11.2, 11.6, 12.0, 12.4, 12.8,
               13.2, 13.85]
E5_med = [8.9, 14.75]
E5_med_lab = ["9.", "14."]

# ---- style ----
HIGH_COLOR = "#FF0000"
LOW_COLOR = "#008B8B"
FIG_W, FIG_H = 1949, 1973
COL_LEFT = [68, 467, 859, 1254, 1651]
ROW_TOP = [24, 419, 814, 1209, 1605]
BOX_W, BOX_H = 293, 319
X_LIMS = {"A": (-0.58, 12.36), "B": (-0.58, 12.36), "C": (-0.55, 10.23),
          "D": (-0.58, 12.36), "E": (-0.82, 16.45)}
TITLE_X = {"C4orf19": 0.932, "AADAT": 0.983, "CALB2": 0.99, "GPX3": 0.942, "C20orf27": 0.966}

g = globals()


def surv_at(steps, t):
    s = 1.0
    for ti, si in steps:
        if ti <= t:
            s = si
        else:
            break
    return s


def draw_curve(ax, steps, cens, color):
    ts = [p[0] for p in steps]
    ss = [p[1] for p in steps]
    ax.step(ts, ss, where="post", color=color, alpha=0.55, lw=2.2, zorder=3)
    cy = [surv_at(steps, t) for t in cens]
    ax.plot(cens, cy, ls="none", marker="+", ms=8, mew=1.6, color=color, alpha=0.7, zorder=4)


fig = plt.figure(figsize=(FIG_W / 100, FIG_H / 100), dpi=100)

for r, row in enumerate(ROWS):
    fig.text(3 / FIG_W, 1 - (ROW_TOP[r] - 22) / FIG_H, row, fontsize=20, fontweight="bold", va="top", ha="left")
    for c, gene in enumerate(GENES):
        key = f"{row}{c + 1}"
        ax = fig.add_axes([COL_LEFT[c] / FIG_W, 1 - (ROW_TOP[r] + BOX_H) / FIG_H, BOX_W / FIG_W, BOX_H / FIG_H])

        draw_curve(ax, g[key + "_high"], g[key + "_high_cens"], HIGH_COLOR)
        draw_curve(ax, g[key + "_low"], g[key + "_low_cens"], LOW_COLOR)

        meds = g[key + "_med"]
        labs = g[key + "_med_lab"]
        if meds:
            ax.plot([0, max(meds)], [0.5, 0.5], color="black", ls="--", lw=1.5, dashes=(4, 2.5), zorder=5)
            for m, lab in zip(meds, labs):
                ax.plot([m, m], [0, 0.5], color="black", ls="--", lw=1.5, dashes=(4, 2.5), zorder=5)
                ax.annotate(lab, xy=(m, 0.5), xytext=(-3, -1), textcoords="offset points", rotation=90,
                            ha="right", va="top", color="#7F7F7F", fontsize=16.5, zorder=6)

        ax.text(0, 0.19, P_TEXT[row][c], fontsize=18, ha="left", va="center", zorder=6)

        # legend
        ax.text(TITLE_X[gene], 0.944, gene, transform=ax.transAxes, fontsize=18, ha="right", va="center")
        for lab, col, yy in [("High", HIGH_COLOR, 0.846), ("Low", LOW_COLOR, 0.746)]:
            ax.add_line(Line2D([0.721, 0.806], [yy, yy], transform=ax.transAxes, color=col, alpha=0.55, lw=3))
            ax.add_line(Line2D([0.7635], [yy], transform=ax.transAxes, color=col, alpha=0.7, marker="+",
                               ms=9, mew=1.8, ls="none"))
            ax.text(0.813, yy, lab, transform=ax.transAxes, fontsize=18, ha="left", va="center")

        xt = X_TICKS[row]
        ax.set_xlim(*X_LIMS[row])
        ax.set_ylim(-0.051, 1.045)
        ax.set_xticks(xt)
        ax.set_xticklabels(X_TICK_LABELS[row])
        ax.set_xticks([(a + b) / 2 for a, b in zip(xt[:-1], xt[1:])], minor=True)
        ax.set_yticks([0, 0.25, 0.5, 0.75, 1.0])
        ax.set_yticklabels(["0.00", "0.25", "0.50", "0.75", "1.00"])
        ax.set_yticks([0.125, 0.375, 0.625, 0.875], minor=True)
        ax.tick_params(axis="y", which="major", length=0, pad=-8.6, labelsize=17.5, labelcolor="#4D4D4D")
        ax.tick_params(axis="x", which="major", length=0, pad=0.5, labelsize=19, labelcolor="#4D4D4D")
        ax.tick_params(which="minor", length=0)
        ax.grid(which="major", color="#EBEBEB", lw=1.5)
        ax.grid(which="minor", color="#F3F3F3", lw=0.8)
        ax.set_axisbelow(True)
        for sp in ax.spines.values():
            sp.set_color("#333333")
            sp.set_linewidth(1.0)

        ax.set_xlabel("Time(Year)", fontsize=18)
        ax.xaxis.set_label_coords(0.544, -0.079)
        ax.set_ylabel("Survival probability", fontsize=18)
        ax.yaxis.set_label_coords(-0.153, 0.567)

fig.savefig("out.png", dpi=100)
